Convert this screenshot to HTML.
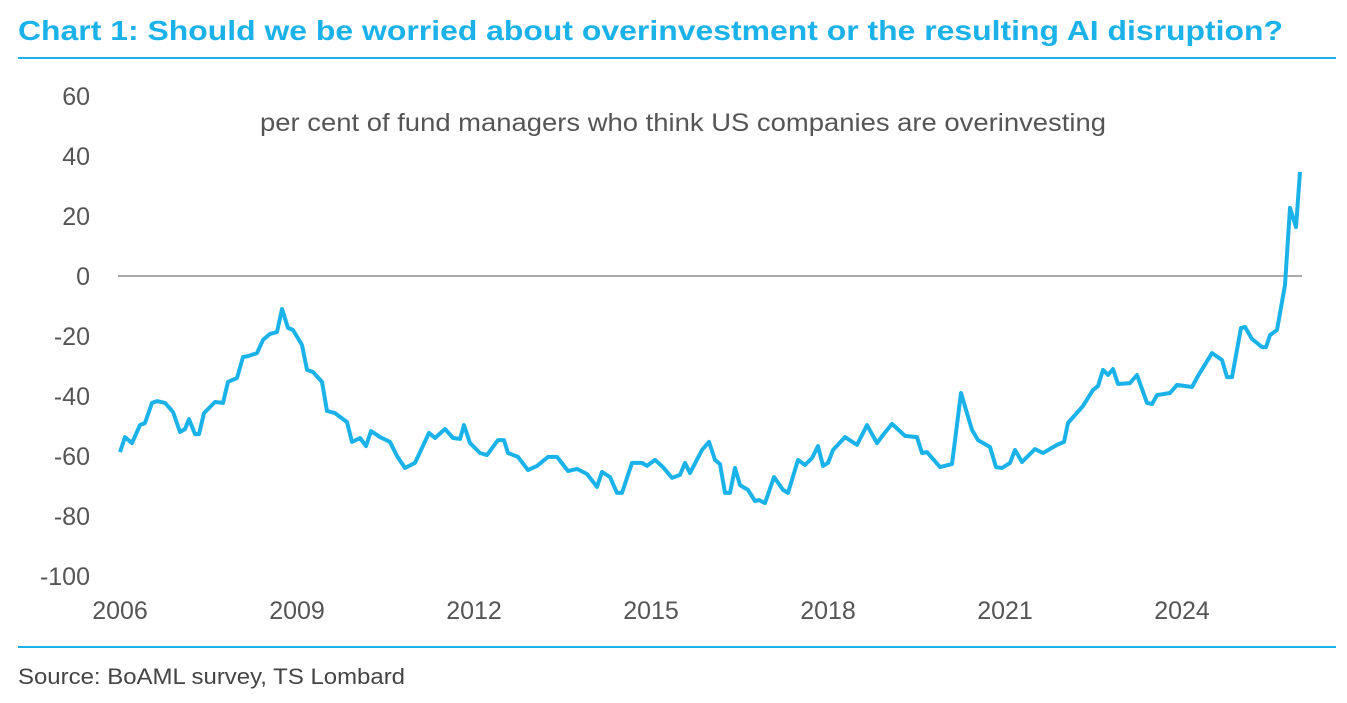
<!DOCTYPE html>
<html><head><meta charset="utf-8"><style>
body{margin:0;background:#fff;width:1347px;height:698px;overflow:hidden;font-family:"Liberation Sans",sans-serif}
</style></head><body>
<svg width="1347" height="698">
<text x="18" y="40" font-size="28" font-weight="bold" fill="#1ab2e8" textLength="1265" lengthAdjust="spacingAndGlyphs">Chart 1: Should we be worried about overinvestment or the resulting AI disruption?</text>
<line x1="18" y1="58" x2="1336" y2="58" stroke="#1ab2e8" stroke-width="2"/>
<line x1="18" y1="647" x2="1336" y2="647" stroke="#1ab2e8" stroke-width="2"/>
<text x="18" y="684" font-size="22" fill="#444" textLength="387" lengthAdjust="spacingAndGlyphs">Source: BoAML survey, TS Lombard</text>
<text x="260" y="131" font-size="25" fill="#555" textLength="846" lengthAdjust="spacingAndGlyphs">per cent of fund managers who think US companies are overinvesting</text>
<g id="yaxis"></g><g id="xaxis"></g>
<line id="zero" stroke="#777" stroke-width="1.3"/>
<path id="series" fill="none" stroke="#1ab2e8" stroke-width="4" stroke-linejoin="round"/>
</svg>
<script>
const yTicks=[60,40,20,0,-20,-40,-60,-80,-100];
const xTicks=[2006,2009,2012,2015,2018,2021,2024];
const xPix=[120,125,132,140,145,152,157,165,173,180,185,189,195,199,204,215,223,228,237,243,248,257,263,270,277,282,288,293,302,307,313,322,327,335,347,352,360,366,371,380,390,397,405,415,429,435,445,453,460,464,470,480,487,498,504,508,518,528,537,548,557,568,577,587,597,602,610,617,622,632,642,647,655,663,672,680,685,690,702,709,715,720,725,730,735,740,748,755,759,765,774,783,788,798,805,812,818,823,828,833,845,857,867,877,883,892,905,917,922,927,940,952,961,972,978,990,996,1002,1010,1015,1022,1035,1043,1057,1064,1068,1083,1093,1098,1103,1108,1113,1118,1130,1137,1147,1152,1157,1170,1177,1192,1198,1212,1222,1227,1232,1241,1245,1252,1262,1266,1270,1277,1285,1290,1296,1300];
const dates=xPix.map(p=>+(2006+(p-120)/59).toFixed(3));
const values=[-58.7,-53.7,-55.7,-49.7,-49,-42.3,-41.7,-42.3,-45.3,-52,-51,-47.7,-52.7,-52.7,-45.7,-42,-42.3,-35.3,-34,-27,-26.7,-25.7,-21.3,-19.3,-18.7,-11,-17.3,-18,-23,-31.3,-32,-35.3,-45,-45.7,-48.7,-55.3,-54,-56.7,-51.7,-53.7,-55.3,-60,-64,-62.3,-52.3,-54,-51,-54,-54.3,-49.7,-55.7,-59,-59.7,-54.7,-54.7,-59,-60.3,-64.7,-63.3,-60.3,-60.3,-65,-64.3,-66,-70.3,-65.3,-67,-72.3,-72.3,-62.3,-62.3,-63.3,-61.3,-63.7,-67.3,-66.3,-62.3,-65.7,-58,-55.3,-61.3,-62.7,-72.3,-72.3,-64,-69.7,-71.3,-75,-74.7,-75.7,-67,-71.3,-72.3,-61.3,-63,-60.7,-56.7,-63.3,-62.3,-58,-53.7,-56.3,-49.7,-55.7,-53,-49.3,-53.3,-53.7,-59,-58.7,-63.7,-62.7,-39,-51.3,-54.7,-57,-63.7,-64,-62.3,-58,-62,-57.7,-59,-56.3,-55.3,-49,-43.3,-38,-36.7,-31.3,-33,-31,-36,-35.7,-33,-42.3,-42.7,-39.7,-39,-36.3,-37,-33.3,-25.7,-28,-33.7,-33.7,-17.3,-17,-21,-23.7,-23.7,-19.7,-18,-3,22.7,16.3,34.7];
const NS='http://www.w3.org/2000/svg';
const X=d=>120+(d-2006)*59;
const Y=v=>276-v*3;
const ya=document.getElementById('yaxis'),xa=document.getElementById('xaxis');
yTicks.forEach(t=>{const e=document.createElementNS(NS,'text');
e.setAttribute('x',90);e.setAttribute('y',Y(t)+9);e.setAttribute('text-anchor','end');
e.setAttribute('font-size','25');e.setAttribute('fill','#555');e.textContent=t;


ya.appendChild(e);});
xTicks.forEach(t=>{const e=document.createElementNS(NS,'text');
e.setAttribute('x',X(t));e.setAttribute('y',619);e.setAttribute('text-anchor','middle');
e.setAttribute('font-size','25');e.setAttribute('fill','#555');e.textContent=t;


xa.appendChild(e);});
const z=document.getElementById('zero');
z.setAttribute('x1',118);z.setAttribute('x2',1302);z.setAttribute('y1',Y(0));z.setAttribute('y2',Y(0));
document.getElementById('series').setAttribute('d',dates.map((d,i)=>(i?'L':'M')+X(d).toFixed(1)+','+Y(values[i]).toFixed(1)).join(''));
</script>
</body></html>
